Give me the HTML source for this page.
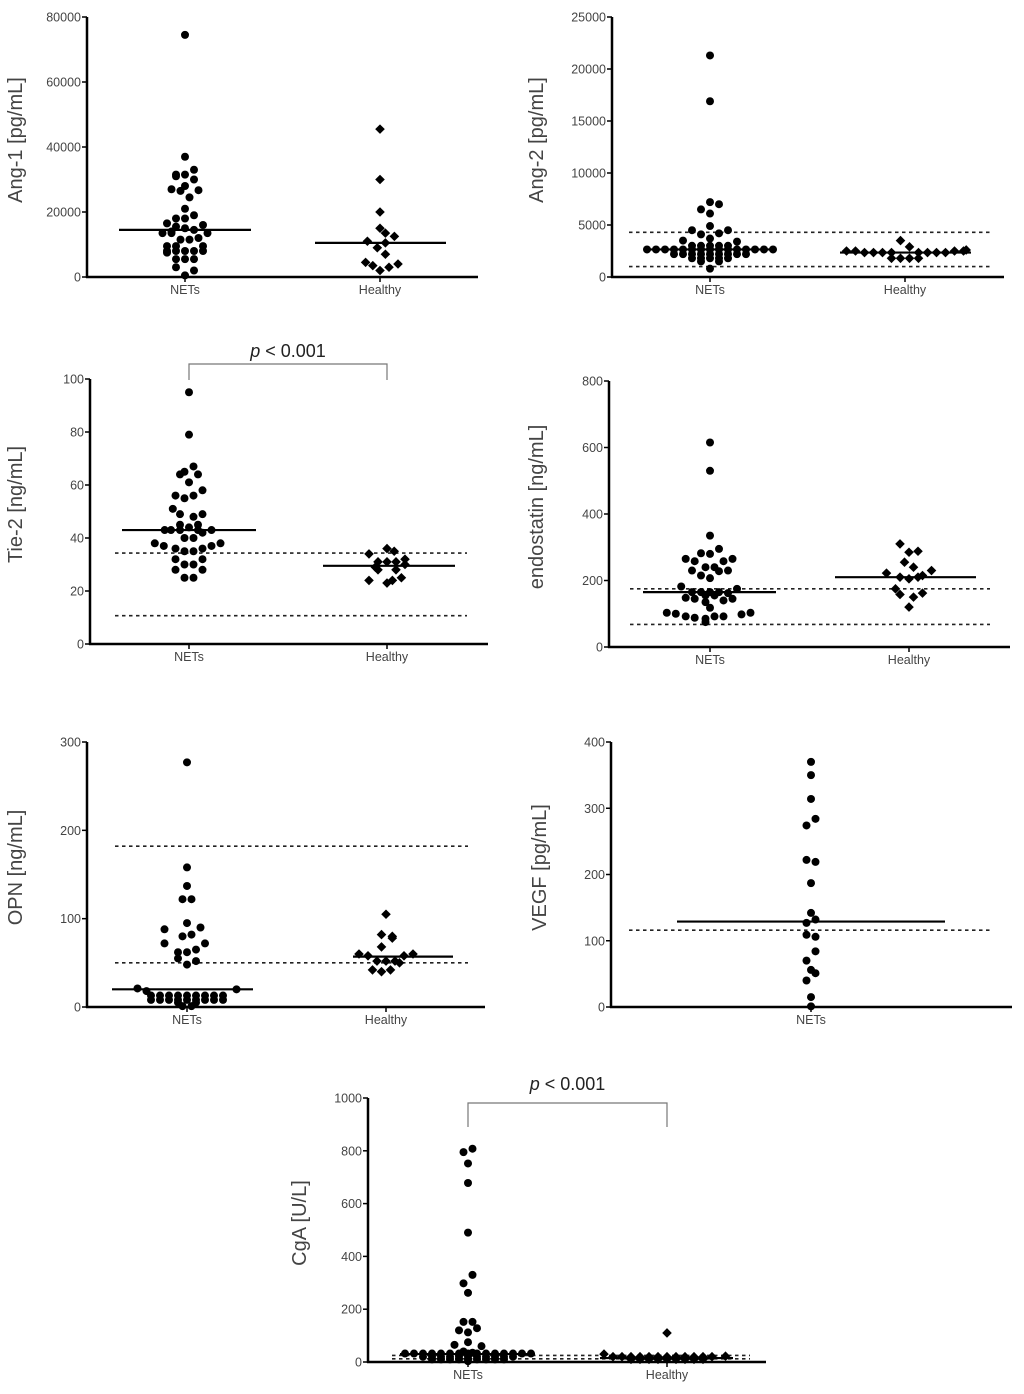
<!DOCTYPE html>
<html><head><meta charset="utf-8"><style>
html,body{margin:0;padding:0;background:#fff;}
svg{display:block;font-family:"Liberation Sans",sans-serif;}
</style></head><body>
<svg id="fig" width="1024" height="1394" viewBox="0 0 1024 1394" xmlns="http://www.w3.org/2000/svg"></svg>
<script>
// ---- data (slot = beeswarm column index) ----
const categories = ["NETs","Healthy"];
const ang1NetsVals = [74500,37000,33000,31500,31500,31000,30000,28000,27000,26500,26700,24500,21000,19000,18000,18000,16500,16000,15500,15000,14500,14000,13500,13500,13500,12000,11500,11500,9500,9500,9500,8000,8000,8000,8000,8000,7500,5500,5500,5500,3000,2000,500];
const ang1NetsSlots = [0,0,1,-1,0,-1,1,0,-1.5,-0.5,1.5,0.5,0,1,0,-1,-2,2,-1,0,1,-1.5,-2.5,-1.5,2.5,1.5,-0.5,0.5,-2,-1,2,-2,-1,0,1,2,-2,-1,0,1,-1,1,0];
const ang1HealthyVals = [45500,30000,20000,15000,13500,12500,11000,10500,9000,7000,4500,3500,4000,3000,2000];
const ang1HealthySlots = [0,0,0,0,0.6,1.6,-1.4,0.6,-0.3,0.6,-1.6,-0.8,2,1,0];
const ang1Ticks = [0,20000,40000,60000,80000];
const ang1Medians = [14500,10500];

const ang2NetsVals = [21300,16900,7200,7000,6500,6100,4900,4500,4500,4200,4100,3700,3400,3500,3000,3000,3000,3000,3000,2650,2650,2650,2650,2650,2650,2650,2650,2650,2650,2650,2650,2650,2650,2650,2200,2200,2200,2200,2200,2200,2200,2200,2200,1800,1800,1800,1800,1800,1500,1500,800];
const ang2NetsSlots = [0,0,0,1,-1,0,0,-2,2,1,-1,0,3,-3,-2,-1,0,1,2,-7,-6,-5,-4,-3,-2,-1,0,1,2,3,4,5,6,7,-4,-3,-2,-1,0,1,2,3,4,-2,-1,0,1,2,-1,1,0];
const ang2HealthyVals = [3500,2900,2500,2500,2350,2350,2350,2350,2350,2350,2350,2350,2500,2500,2600,1800,1800,1800,1800];
const ang2HealthySlots = [-0.5,0.5,-6.5,-5.5,-4.5,-3.5,-2.5,-1.5,1.5,2.5,3.5,4.5,5.5,6.5,6.8,-1.5,-0.5,0.5,1.5];
const ang2Ticks = [0,5000,10000,15000,20000,25000];
const ang2Medians = [2650,2350];
const ang2Ref = [4300,1000];

const tieNetsVals = [95,79,67,65,64,64,61,58,56,56,55,51,49,49,48,45,45,44,43,43,43,43,43,42,40,40,38,38,37,37,36,36,35,35,32,32,30,30,28,28,25,25];
const tieNetsSlots = [0,0,0.5,-0.5,-1,1,0,1.5,-1.5,0.5,-0.5,-1.8,-1,1.5,0.5,-1,1,0,-2.7,-2,-1,1,2.5,1.5,-0.5,0.5,-3.8,3.5,-2.8,2.5,-1.5,1.5,-0.5,0.5,-1.5,1.5,-0.5,0.5,-1.5,1.5,-0.5,0.5];
const tieHealthyVals = [36,35,34,32,31,31,31,30,29,28,28,25,24,24,23];
const tieHealthySlots = [0,0.8,-2,2,-1,0,1,2,-1.3,-1,1,1.6,-2,0.6,0];
const tieTicks = [0,20,40,60,80,100];
const tieMedians = [43,29.5];
const tieRef = [34.3,10.7];

const endoNetsVals = [615,530,335,295,282,280,265,265,258,258,240,240,230,230,228,215,207,182,175,165,165,165,165,162,148,145,155,155,140,145,135,118,103,100,92,88,92,92,98,103,85,75];
const endoNetsSlots = [0,0,0,1,-1,0,-2.7,2.5,-1.7,1.5,-0.5,0.5,-2,2,1,-1,0,-3.2,3,-2,-1,0,1,2,-2.7,-1.7,-0.5,0.5,1.5,2.5,-0.5,0,-4.8,-3.8,-2.7,-1.7,0.5,1.5,3.5,4.5,-0.5,-0.5];
const endoHealthyVals = [310,285,288,255,240,230,222,210,205,210,215,175,158,150,162,120];
const endoHealthySlots = [-1,0,1,-0.5,0.5,2.5,-2.5,-1,0,1,1.5,-1.5,-1,0.5,1.5,0];
const endoTicks = [0,200,400,600,800];
const endoMedians = [165,210];
const endoRef = [175,68];

const opnNetsVals = [277,158,137,122,122,95,90,88,82,80,72,72,65,62,62,55,52,48,21,20,18,13,13,13,13,13,13,13,13,13,8,8,8,8,8,8,8,8,8,5,5,1,1];
const opnNetsSlots = [0,0,0,-0.5,0.5,0,1.5,-2.5,0.5,-0.5,-2.5,2,1,-1,0,-1,1,0,-5.5,5.5,-4.5,-4,-3,-2,-1,0,1,2,3,4,-4,-3,-2,-1,0,1,2,3,4,-1,1,-0.5,0.5];
const opnHealthyVals = [105,82,80,78,68,60,60,58,58,52,52,52,50,42,40,42];
const opnHealthySlots = [0,-0.5,0.7,0.7,-0.5,-3,3,-2,2,-1,0,1,1.5,-1.5,-0.5,0.5];
const opnTicks = [0,100,200,300];
const opnMedians = [20,57];
const opnRef = [182,50];

const vegfNetsVals = [370,350,314,284,274,222,219,187,142,132,127,109,106,84,70,56,51,40,15,1];
const vegfNetsSlots = [0,0,0,0.5,-0.5,-0.5,0.5,0,0,0.5,-0.5,-0.5,0.5,0.5,-0.5,0,0.5,-0.5,0,0];
const vegfTicks = [0,100,200,300,400];
const vegfMedians = [129];
const vegfRef = [116];

const cgaNetsVals = [808,795,752,678,490,330,298,262,152,152,128,120,112,75,65,60,40,35,32,32,32,32,32,32,32,32,32,32,32,32,32,32,32,20,20,20,20,20,20,20,20,20,20,20,10,10,10,10,10,10,10,10,10,3];
const cgaNetsSlots = [0.5,-0.5,0,0,0,0.5,-0.5,0,-0.5,0.5,1,-1,0,0,-1.5,1.5,-0.5,0.5,-7,-6,-5,-4,-3,-2,-1,1,2,3,4,5,6,7,0,-5,-4,-3,-2,-1,0,1,2,3,4,5,-4,-3,-2,-1,0,1,2,3,4,0];
const cgaHealthyVals = [110,30,22,20,20,20,20,20,20,20,20,20,20,20,20,10,10,10,10,10,10,10,10,10];
const cgaHealthySlots = [0,-7,6.5,-6,-5,-4,-3,-2,-1,0,1,2,3,4,5,-4,-3,-2,-1,0,1,2,3,4];
const cgaTicks = [0,200,400,600,800,1000];
const cgaMedians = [30,15];
const cgaRef = [25,12];

// ---- layout ----
const NS='http://www.w3.org/2000/svg';
const svg=document.getElementById('fig');
function mk(tag,attrs,parent){const e=document.createElementNS(NS,tag);for(const k in attrs)e.setAttribute(k,attrs[k]);(parent||svg).appendChild(e);return e;}

const panels=[
 {id:'ang1',title:'Ang-1 [pg/mL]',ax:87,top:17,bot:277,xend:478,max:80000,cx:[185,380],med:[[119,251],[315,446]],ref:null,refx:null,ticks:ang1Ticks,meds:ang1Medians,groups:[[ang1NetsVals,ang1NetsSlots],[ang1HealthyVals,ang1HealthySlots]],tx:22},
 {id:'ang2',title:'Ang-2 [pg/mL]',ax:612,top:17,bot:277,xend:1004,max:25000,cx:[710,905],med:[[645,775],[840,971]],ref:ang2Ref,refx:[629,990],ticks:ang2Ticks,meds:ang2Medians,groups:[[ang2NetsVals,ang2NetsSlots],[ang2HealthyVals,ang2HealthySlots]],tx:543},
 {id:'tie2',title:'Tie-2 [ng/mL]',ax:90,top:379,bot:644,xend:488,max:100,cx:[189,387],med:[[122,256],[323,455]],ref:tieRef,refx:[115,467],ticks:tieTicks,meds:tieMedians,groups:[[tieNetsVals,tieNetsSlots],[tieHealthyVals,tieHealthySlots]],tx:22,bracket:{y:364,y2:380,ty:357}},
 {id:'endo',title:'endostatin [ng/mL]',ax:609,top:381,bot:647,xend:1010,max:800,cx:[710,909],med:[[643,776],[835,976]],ref:endoRef,refx:[630,990],ticks:endoTicks,meds:endoMedians,groups:[[endoNetsVals,endoNetsSlots],[endoHealthyVals,endoHealthySlots]],tx:543},
 {id:'opn',title:'OPN [ng/mL]',ax:87,top:742,bot:1007,xend:485,max:300,cx:[187,386],med:[[112,253],[353,453]],ref:opnRef,refx:[115,468],ticks:opnTicks,meds:opnMedians,groups:[[opnNetsVals,opnNetsSlots],[opnHealthyVals,opnHealthySlots]],tx:22},
 {id:'vegf',title:'VEGF [pg/mL]',ax:611,top:742,bot:1007,xend:1012,max:400,cx:[811],med:[[677,945]],ref:vegfRef,refx:[629,990],ticks:vegfTicks,meds:vegfMedians,groups:[[vegfNetsVals,vegfNetsSlots]],tx:546},
 {id:'cga',title:'CgA [U/L]',ax:368,top:1098,bot:1362,xend:766,max:1000,cx:[468,667],med:[[400,535],[600,733]],ref:cgaRef,refx:[392,750],ticks:cgaTicks,meds:cgaMedians,groups:[[cgaNetsVals,cgaNetsSlots],[cgaHealthyVals,cgaHealthySlots]],tx:306,bracket:{y:1103,y2:1127,ty:1090}}
];
const SLOT=9;

panels.forEach(p=>{
 const g=mk('g',{});
 
 
 const y=v=>p.bot-(v/p.max)*(p.bot-p.top);
 const ya=mk('line',{x1:p.ax,y1:p.top,x2:p.ax,y2:p.bot+1,stroke:'#000','stroke-width':2.5},g);
 
 
 const xa=mk('line',{x1:p.ax-1,y1:p.bot,x2:p.xend,y2:p.bot,stroke:'#000','stroke-width':2.5},g);
 
 
 p.ticks.forEach(t=>{
  const yy=y(t);
  mk('line',{x1:p.ax-5,y1:yy,x2:p.ax,y2:yy,stroke:'#000','stroke-width':1.5},g);
  const tl=mk('text',{x:p.ax-6,y:yy+4.5,'text-anchor':'end','font-size':12.5,fill:'#444'},g);
  tl.textContent=t;
  
  
 });
 const cy=(p.top+p.bot)/2;
 const tt=mk('text',{x:p.tx+7,y:cy,'text-anchor':'middle','font-size':20,fill:'#444',transform:`rotate(-90 ${p.tx} ${cy})`},g);
 tt.textContent=p.title;
 
 
 p.cx.forEach((c,i)=>{
  mk('line',{x1:c,y1:p.bot,x2:c,y2:p.bot+5,stroke:'#000','stroke-width':1.5},g);
  const cl=mk('text',{x:c,y:p.bot+17,'text-anchor':'middle','font-size':12.5,fill:'#444'},g);
  cl.textContent=categories[i];
  
  
 });
 if(p.ref) p.ref.forEach(r=>{
  const rl=mk('line',{x1:p.refx[0],y1:y(r),x2:p.refx[1],y2:y(r),stroke:'#222','stroke-width':1.6,'stroke-dasharray':'3.5,3.5'},g);
  
  
 });
 p.groups.forEach((gr,i)=>{
  const [vals,slots]=gr;
  vals.forEach((v,j)=>{
   const px=p.cx[i]+slots[j]*SLOT, py=y(v);
   let m;
   if(i===0) m=mk('circle',{cx:px,cy:py,r:4,fill:'#000'},g);
   else m=mk('polygon',{points:`${px},${py-4.8} ${px+4.8},${py} ${px},${py+4.8} ${px-4.8},${py}`,fill:'#000'},g);
   
   
  });
 });
 p.meds.forEach((md,i)=>{
  const ml=mk('line',{x1:p.med[i][0],y1:y(md),x2:p.med[i][1],y2:y(md),stroke:'#000','stroke-width':2.2},g);
  
  
 });
 if(p.bracket){
  const b=p.bracket;
  const bp=mk('path',{d:`M${p.cx[0]},${b.y2} V${b.y} H${p.cx[1]} V${b.y2}`,fill:'none',stroke:'#777','stroke-width':1.2},g);
  
  
  const pt=mk('text',{x:(p.cx[0]+p.cx[1])/2,y:b.ty,'text-anchor':'middle','font-size':18,fill:'#222'},g);
  pt.innerHTML='<tspan font-style="italic">p</tspan> &lt; 0.001';
  
  
 }
});
</script>
</body></html>
